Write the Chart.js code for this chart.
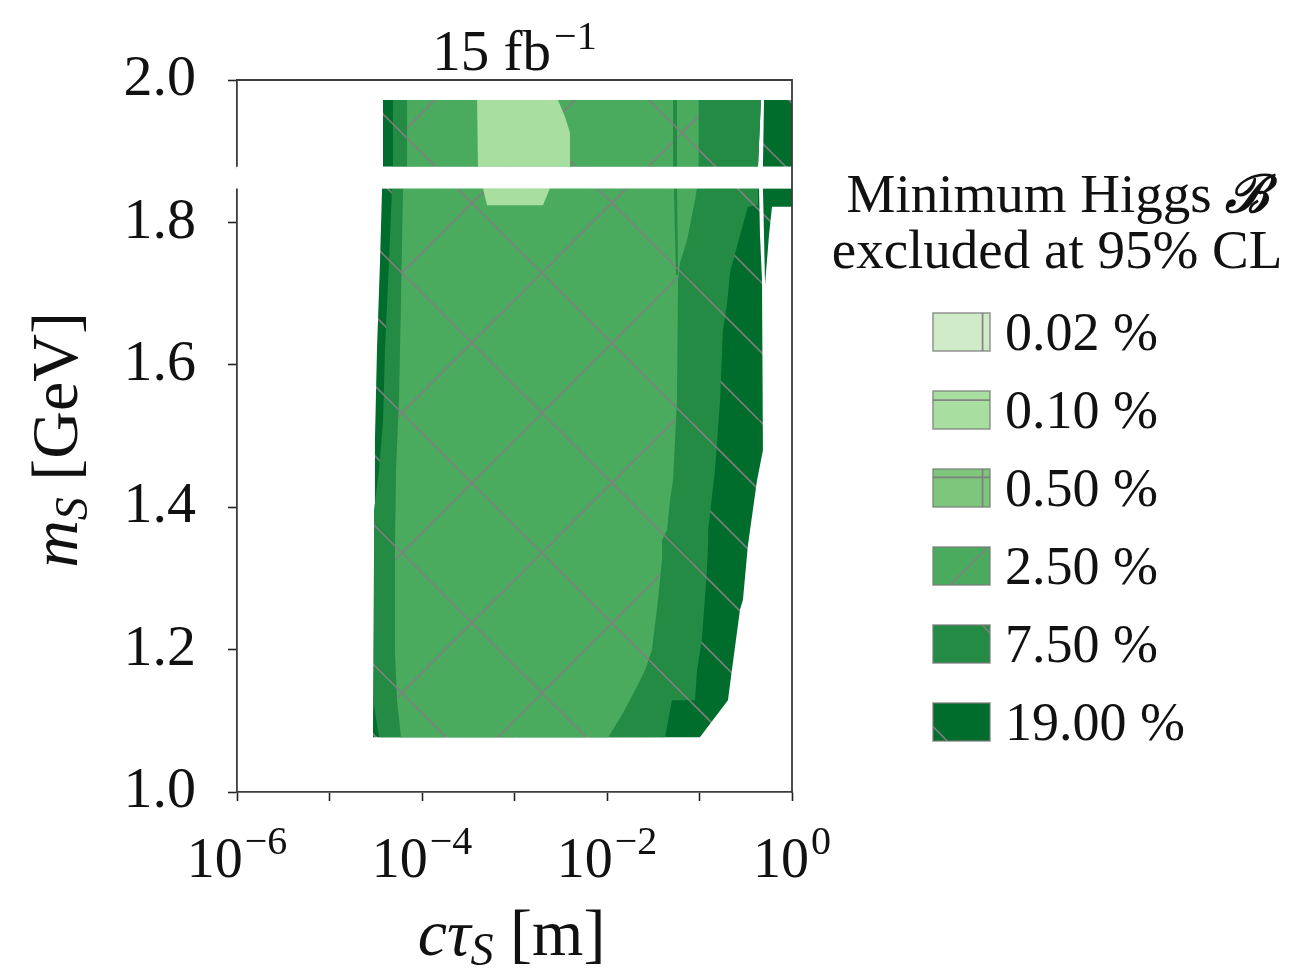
<!DOCTYPE html>
<html><head><meta charset="utf-8">
<script src="https://cdn.jsdelivr.net/npm/chart.js@4.4.1/dist/chart.umd.min.js"></script>
<style>html,body{margin:0;padding:0;background:#fff;overflow:hidden}canvas{display:block}</style>
</head><body>
<canvas id="c" width="1294" height="974"></canvas>
<script>
// ---------------- data ----------------
const levelLabels = ['0.02 %', '0.10 %', '0.50 %', '2.50 %', '7.50 %', '19.00 %'];
const levelColors = ['#d0ebc8', '#a8dea0', '#7dc67c', '#4aab5e', '#238b44', '#006d2c'];
const legendTitle = ['Minimum Higgs ', 'ℬ', 'excluded at 95% CL'];
const plotTitle = ['15 fb', '−1'];
const xAxisTitle = ['c', 'τ', 'S', ' [m]'];
const yAxisTitle = ['m', 'S', ' [GeV]'];
const xTickValues = [1e-6, 1e-5, 1e-4, 1e-3, 1e-2, 1e-1, 1];
const xTickExponents = ['−6', '', '−4', '', '−2', '', '0'];
const yTickValues = [1.0, 1.2, 1.4, 1.6, 1.8, 2.0];
const yTickLabels = ['1.0', '1.2', '1.4', '1.6', '1.8', '2.0'];

// excluded-region contours, [cτ (m), m_S (GeV)]
const vetoBand = [[9.8e-7, 1.8755], [0.95, 1.8755], [0.95, 1.8505], [9.8e-7, 1.8505], [9.8e-7, 1.8755]];
// upper strip (m_S > 1.878)
const top19 = [[3.79e-5, 1.972], [0.462, 1.972], [0.429, 1.878], [3.79e-5, 1.878]];
const top19Right = [[0.498, 1.972], [1, 1.972], [1, 1.878], [0.485, 1.878]];
const top75 = [[4.85e-5, 1.972], [0.462, 1.972], [0.429, 1.878], [4.85e-5, 1.878]];
const top75Sliver = [[5.18e-2, 1.972], [5.71e-2, 1.972], [5.71e-2, 1.878], [5.18e-2, 1.878]];
const top25 = [[6.89e-5, 1.972], [0.098, 1.972], [0.098, 1.878], [6.89e-5, 1.878]];
const top01 = [[3.94e-4, 1.972], [2.95e-3, 1.972], [3.52e-3, 1.948], [3.98e-3, 1.926], [3.98e-3, 1.878], [4.03e-4, 1.878]];
// lower block (m_S < 1.848)
const low19 = [[3.70e-5, 1.848], [0.440, 1.848], [0.451, 1.782], [0.474, 1.719], [0.485, 1.579], [0.485, 1.480],
  [0.419, 1.438], [0.334, 1.347], [0.295, 1.270], [0.274, 1.256], [0.224, 1.171], [0.203, 1.129], [0.101, 1.077],
  [2.95e-5, 1.077], [3.03e-5, 1.340], [3.10e-5, 1.494], [3.26e-5, 1.621], [3.52e-5, 1.747]];
const low19Right = [[0.485, 1.848], [1, 1.848], [1, 1.822], [0.608, 1.822], [0.564, 1.782], [0.511, 1.712], [0.498, 1.782]];
const low75 = [[4.74e-5, 1.848], [0.429, 1.848], [0.429, 1.824], [0.334, 1.822], [0.274, 1.782], [0.214, 1.730],
  [0.198, 1.684], [0.179, 1.649], [0.167, 1.551], [0.147, 1.452], [0.124, 1.368], [0.124, 1.354], [0.120, 1.308],
  [0.106, 1.213], [0.094, 1.171], [0.0893, 1.129], [0.0504, 1.129], [0.0424, 1.077], [3.43e-5, 1.077],
  [3.03e-5, 1.122], [3.03e-5, 1.396], [3.43e-5, 1.452], [3.79e-5, 1.522], [3.98e-5, 1.621], [4.40e-5, 1.747]];
const low75Sliver = [[5.30e-2, 1.848], [5.71e-2, 1.848], [5.86e-2, 1.726], [5.57e-2, 1.726]];
const low25 = [[6.23e-5, 1.848], [0.094, 1.848], [0.0893, 1.831], [0.0733, 1.775], [0.0615, 1.743], [0.0586, 1.719],
  [0.0571, 1.551], [0.0518, 1.438], [0.0480, 1.410], [0.0446, 1.368], [0.0394, 1.354], [0.0394, 1.326],
  [0.0356, 1.270], [0.0306, 1.199], [0.0258, 1.171], [0.0201, 1.143], [0.0145, 1.108], [0.0103, 1.077],
  [5.93e-5, 1.077], [5.37e-5, 1.129], [5.10e-5, 1.199], [5.10e-5, 1.340], [5.24e-5, 1.452], [5.64e-5, 1.551], [5.93e-5, 1.691]];
const low01 = [[4.56e-4, 1.848], [2.42e-3, 1.848], [2.03e-3, 1.824], [5.05e-4, 1.824]];

// ---------------- styling ----------------
const F = '"Liberation Serif", "DejaVu Serif", serif';
const canvas = document.getElementById('c');
const ctx0 = canvas.getContext('2d');
const HATCH = 'rgba(128,128,128,0.95)';

function hatchPattern(color, spec) {
  const T = 140;
  const c = document.createElement('canvas');
  c.width = T; c.height = T;
  const g = c.getContext('2d');
  g.fillStyle = color; g.fillRect(0, 0, T, T);
  g.strokeStyle = HATCH; g.lineWidth = 1.7;
  g.beginPath();
  for (const k of [-1, 0, 1]) {
    (spec.back || []).forEach(c0 => { const x0 = c0 + k * T; g.moveTo(x0, 0); g.lineTo(x0 + T, T); });
    (spec.fwd || []).forEach(d0 => { const x0 = d0 + k * T; g.moveTo(x0, 0); g.lineTo(x0 - T, T); });
  }
  (spec.horiz || []).forEach(y0 => { g.moveTo(0, y0); g.lineTo(T, y0); });
  (spec.vert || []).forEach(x0 => { g.moveTo(x0, 0); g.lineTo(x0, T); });
  g.stroke();
  return ctx0.createPattern(c, 'repeat');
}
const hatchSpecs = [
  {vert: [3]}, {horiz: [85]}, {horiz: [13], vert: [3]},
  {back: [129], fwd: [115]}, {back: [129]}, {back: [129, 59]}
];
const patterns = levelColors.map((c, i) => hatchPattern(c, hatchSpecs[i]));

const regions = [
  {pts: vetoBand, level: -1, order: 0},
  {pts: top01, level: 1, order: 1}, {pts: low01, level: 1, order: 1},
  {pts: top75Sliver, level: 4, order: 2}, {pts: low75Sliver, level: 4, order: 2},
  {pts: top25, level: 3, order: 3}, {pts: low25, level: 3, order: 3},
  {pts: top75, level: 4, order: 4}, {pts: low75, level: 4, order: 4},
  {pts: top19, level: 5, order: 5}, {pts: top19Right, level: 5, order: 5},
  {pts: low19, level: 5, order: 5}, {pts: low19Right, level: 5, order: 5}
];

const datasets = regions.map(r => {
  const veto = r.level < 0;
  return {
    label: veto ? 'veto' : levelLabels[r.level],
    data: r.pts.map(p => ({x: p[0], y: p[1]})),
    backgroundColor: veto ? '#ffffff' : patterns[r.level],
    borderColor: veto ? '#ffffff' : 'rgba(0,0,0,0)',
    borderWidth: veto ? 4 : 0,
    pointRadius: 0,
    fill: 'shape',
    tension: 0,
    clip: veto ? false : undefined,
    order: r.order
  };
});

function drawRuns(ctx, runs, x, y, align) {
  let w = 0;
  runs.forEach(r => { ctx.font = r.font; r.w = ctx.measureText(r.t).width + (r.gap || 0); w += r.w; });
  let cx = align === 'center' ? x - w / 2 : x;
  runs.forEach(r => { ctx.font = r.font; ctx.fillText(r.t, cx + (r.gap || 0), y + (r.dy || 0)); cx += r.w; });
}

const legendHatch = [
  [[0.87, 0, 0.87, 1]],
  [[0, 0.24, 1, 0.24]],
  [[0, 0.22, 1, 0.22], [0.87, 0, 0.87, 1]],
  [[0.30, 1, 0.967, 0]],
  [[0.86, 0, 1, 0.21]],
  [[0, 0.62, 0.25, 1]]
];

const decor = {
  id: 'decor',
  afterDatasetsDraw(chart) {
    const {ctx, chartArea: a} = chart;
    ctx.save();
    ctx.strokeStyle = '#3c3c3c'; ctx.lineWidth = 1.8;
    ctx.beginPath();
    ctx.moveTo(a.left - 0.9, a.top); ctx.lineTo(a.right, a.top); ctx.lineTo(a.right, a.bottom + 0.9);
    ctx.stroke();
    ctx.restore();
  },
  afterDraw(chart) {
    const {ctx, chartArea: a} = chart;
    ctx.save();
    ctx.fillStyle = '#111'; ctx.textBaseline = 'alphabetic'; ctx.textAlign = 'left';
    const cx = (a.left + a.right) / 2;
    // title
    drawRuns(ctx, [{t: plotTitle[0], font: `57px ${F}`}, {t: plotTitle[1], font: `40px ${F}`, dy: -21, gap: 3}], cx, 70, 'center');
    // x tick labels
    const xs = chart.scales.x;
    xTickValues.forEach((v, i) => {
      if (!xTickExponents[i]) return;
      const px = xs.getPixelForValue(v);
      drawRuns(ctx, [{t: '10', font: `56px ${F}`}, {t: xTickExponents[i], font: `40px ${F}`, dy: -23, gap: 2}], px, 877, 'center');
    });
    // x axis title
    drawRuns(ctx, [
      {t: xAxisTitle[0], font: `italic 66px ${F}`},
      {t: xAxisTitle[1], font: `italic 66px ${F}`},
      {t: xAxisTitle[2], font: `italic 46px ${F}`, dy: 10},
      {t: xAxisTitle[3], font: `66px ${F}`}
    ], cx - 3, 955, 'center');
    // y axis title
    ctx.save();
    ctx.translate(77, (a.top + a.bottom) / 2 + 4);
    ctx.rotate(-Math.PI / 2);
    drawRuns(ctx, [
      {t: yAxisTitle[0], font: `italic 66px ${F}`},
      {t: yAxisTitle[1], font: `italic 46px ${F}`, dy: 10},
      {t: yAxisTitle[2], font: `66px ${F}`}
    ], 0, 0, 'center');
    ctx.restore();
    // legend title
    drawRuns(ctx, [{t: legendTitle[0], font: `55px ${F}`}, {t: legendTitle[1], font: `bold italic 52px "DejaVu Serif", serif`}], 1058, 212, 'center');
    drawRuns(ctx, [{t: legendTitle[2], font: `55px ${F}`}], 1057, 268, 'center');
    // legend entries
    levelLabels.forEach((lab, i) => {
      const base = 350 + 78 * i;
      const x0 = 933, y0 = base - 37, w = 57, h = 38;
      ctx.fillStyle = levelColors[i];
      ctx.fillRect(x0, y0, w, h);
      ctx.save();
      ctx.beginPath(); ctx.rect(x0, y0, w, h); ctx.clip();
      ctx.strokeStyle = HATCH; ctx.lineWidth = 1.7;
      ctx.beginPath();
      legendHatch[i].forEach(s => { ctx.moveTo(x0 + s[0] * w, y0 + s[1] * h); ctx.lineTo(x0 + s[2] * w, y0 + s[3] * h); });
      ctx.stroke();
      ctx.restore();
      ctx.strokeStyle = 'rgba(120,120,120,0.75)'; ctx.lineWidth = 1.6;
      ctx.strokeRect(x0, y0, w, h);
      ctx.fillStyle = '#111';
      drawRuns(ctx, [{t: lab, font: `54px ${F}`}], 1005, base, 'left');
    });
    ctx.restore();
  }
};

new Chart(canvas, {
  type: 'line',
  data: {datasets},
  plugins: [decor],
  options: {
    responsive: false,
    devicePixelRatio: 1,
    animation: false,
    events: [],
    layout: {padding: {top: 80, right: 502, left: 0, bottom: 0}},
    plugins: {legend: {display: false}, tooltip: {enabled: false}, title: {display: false}},
    scales: {
      x: {
        type: 'logarithmic', min: 1e-6, max: 1, position: 'bottom',
        afterBuildTicks: s => { s.ticks = xTickValues.map(v => ({value: v})); },
        afterFit: s => { s.height = 182; },
        ticks: {display: false},
        grid: {display: true, drawOnChartArea: false, drawTicks: true, tickLength: 9, tickWidth: 1.6, tickColor: '#222'},
        border: {display: true, color: '#3c3c3c', width: 1.8}
      },
      y: {
        type: 'linear', min: 1, max: 2, position: 'left',
        afterBuildTicks: s => { s.ticks = yTickValues.map(v => ({value: v})); },
        afterFit: s => { s.width = 237; },
        ticks: {
          callback: (v, i) => yTickLabels[i],
          font: {family: F, size: 58}, color: '#111', padding: 32
        },
        grid: {display: true, drawOnChartArea: false, drawTicks: true, tickLength: 9, tickWidth: 1.6, tickColor: '#222'},
        border: {display: true, color: '#3c3c3c', width: 1.8}
      }
    }
  }
});
</script>
</body></html>
